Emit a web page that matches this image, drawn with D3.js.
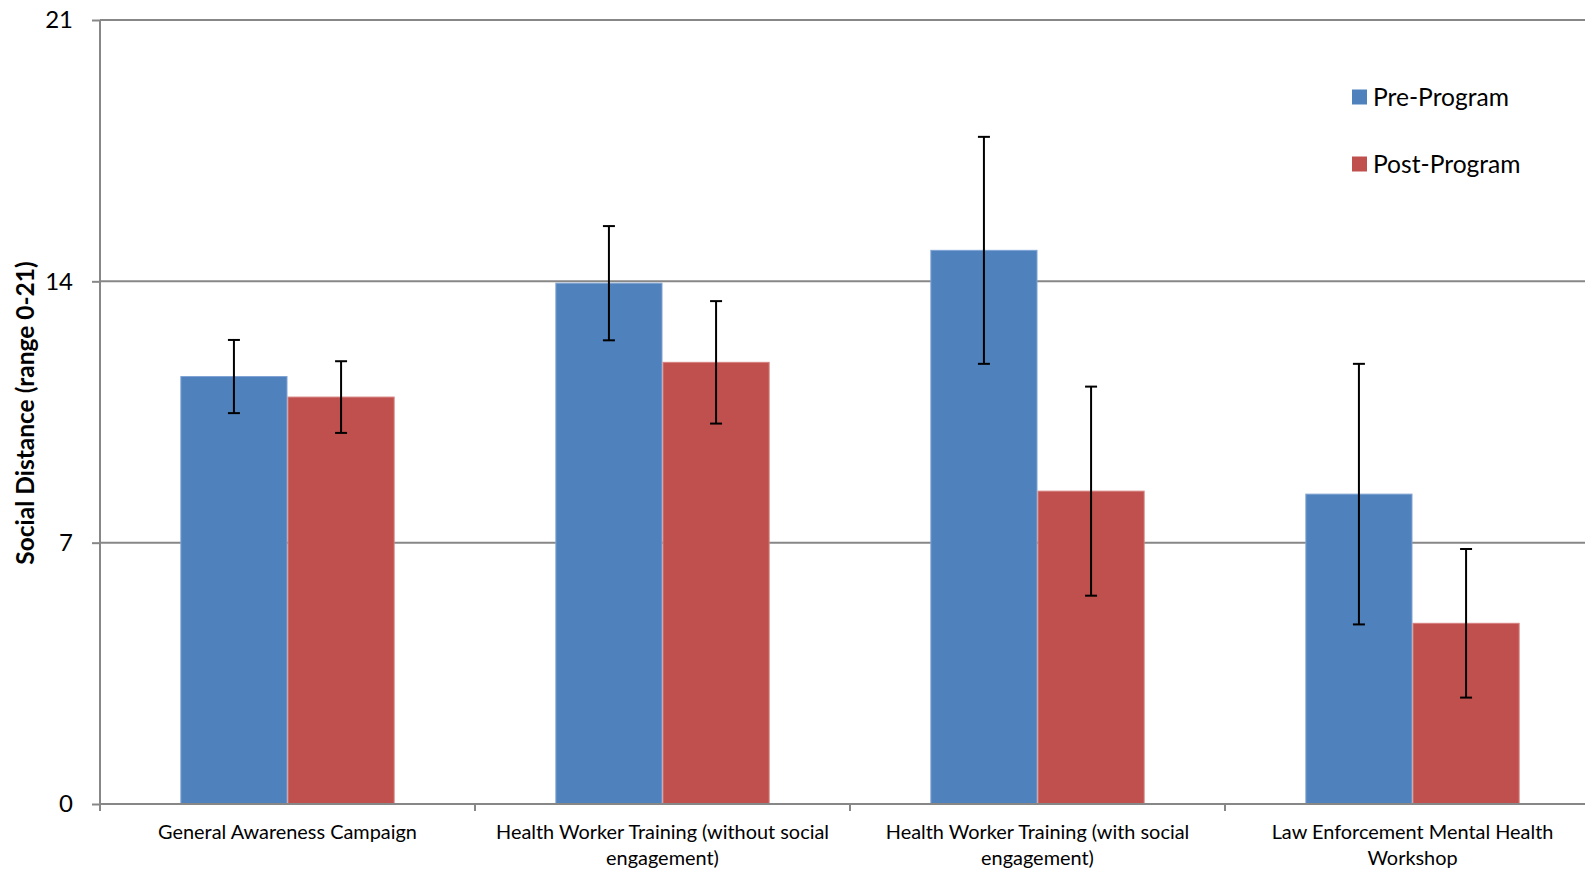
<!DOCTYPE html>
<html>
<head>
<meta charset="utf-8">
<script src="https://cdn.jsdelivr.net/npm/d3@7"></script>
<style>
  html, body { margin: 0; padding: 0; background: #ffffff; }
  svg { display: block; }
  text { font-family: Lato, "Open Sans", sans-serif; fill: #000; }
</style>
</head>
<body>
<svg id="chart" width="1585" height="870"></svg>
<script>
// ---- data ----
const categories = [
  "General Awareness Campaign",
  "Health Worker Training (without social\nengagement)",
  "Health Worker Training (with social\nengagement)",
  "Law Enforcement Mental Health\nWorkshop"
];
const seriesNames = ["Pre-Program", "Post-Program"];
const preValues  = [11.45, 13.95, 14.83, 8.30];
const postValues = [10.90, 11.83, 8.38, 4.84];
const preErrors  = [0.98, 1.53, 3.04, 3.49];
const postErrors = [0.96, 1.64, 2.80, 1.99];
const yTicks = [0, 7, 14, 21];
const colors = ["#4F81BD", "#C0504D"];
const strokeColors = ["#7FA3D2", "#D6817F"];

(function () {
// ---- layout ----
const svg = d3.select("#chart");
const pLeft = 100, pRight = 1600, pTop = 20, pBottom = 804;

const x0 = d3.scaleBand().domain(d3.range(categories.length)).range([pLeft, pRight]).paddingInner(0).paddingOuter(0);
const x1 = d3.scaleBand().domain(d3.range(seriesNames.length)).range([0, x0.bandwidth()]).paddingInner(0).paddingOuter(0.75);
const y = d3.scaleLinear().domain([0, 21]).range([pBottom, pTop]);

const gridColor = "#878787";

// gridlines
svg.append("g").selectAll("line").data(yTicks.filter(t => t !== 0)).join("line")
  .attr("x1", pLeft).attr("x2", pRight)
  .attr("y1", d => y(d)).attr("y2", d => y(d))
  .attr("stroke", gridColor).attr("stroke-width", 2);

// bars
const table = categories.map((c, i) => ({
  i,
  vals: [
    {s: 0, v: preValues[i], e: preErrors[i]},
    {s: 1, v: postValues[i], e: postErrors[i]}
  ]
}));

const groups = svg.append("g").selectAll("g").data(table).join("g")
  .attr("transform", d => `translate(${x0(d.i)},0)`);

groups.selectAll("rect").data(d => d.vals).join("rect")
  .attr("x", d => x1(d.s) + 0.5)
  .attr("width", x1.bandwidth() - 1)
  .attr("y", d => y(d.v))
  .attr("height", d => y(0) - y(d.v))
  .attr("fill", d => colors[d.s])
  .attr("stroke", d => strokeColors[d.s])
  .attr("stroke-width", 1);

// error bars
const capW = 12;
const eb = groups.selectAll("g.err").data(d => d.vals).join("g").attr("class", "err");
eb.append("line")
  .attr("x1", d => x1(d.s) + x1.bandwidth() / 2)
  .attr("x2", d => x1(d.s) + x1.bandwidth() / 2)
  .attr("y1", d => y(d.v + d.e)).attr("y2", d => y(d.v - d.e))
  .attr("stroke", "#000").attr("stroke-width", 2);
[1, -1].forEach(sign => {
  eb.append("line")
    .attr("x1", d => x1(d.s) + x1.bandwidth() / 2 - capW / 2)
    .attr("x2", d => x1(d.s) + x1.bandwidth() / 2 + capW / 2)
    .attr("y1", d => y(d.v + sign * d.e)).attr("y2", d => y(d.v + sign * d.e))
    .attr("stroke", "#000").attr("stroke-width", 2);
});

// y axis
const yAxis = svg.append("g").attr("transform", `translate(${pLeft},0)`)
  .call(d3.axisLeft(y).tickValues(yTicks).tickSize(8).tickPadding(19).tickFormat(d3.format("d")));
yAxis.select(".domain").attr("stroke", gridColor).attr("stroke-width", 2).attr("d", `M0,${pTop}V${pBottom}`);
yAxis.selectAll(".tick line").attr("stroke", gridColor).attr("stroke-width", 2);
yAxis.selectAll(".tick text").attr("font-size", 24).attr("font-family", "Lato, 'Open Sans', sans-serif").attr("fill", "#000");

// x axis
const xAxisG = svg.append("g");
xAxisG.append("line").attr("x1", pLeft).attr("x2", pRight).attr("y1", pBottom).attr("y2", pBottom)
  .attr("stroke", gridColor).attr("stroke-width", 2);
const boundaries = d3.range(categories.length + 1).map(i => i < categories.length ? x0(i) : x0(categories.length - 1) + x0.bandwidth());
xAxisG.selectAll("line.tk").data(boundaries).join("line").attr("class", "tk")
  .attr("x1", d => d).attr("x2", d => d).attr("y1", pBottom).attr("y2", pBottom + 7)
  .attr("stroke", gridColor).attr("stroke-width", 2);

const catLabels = xAxisG.selectAll("text.cat").data(categories).join("text").attr("class", "cat")
  .attr("text-anchor", "middle")
  .attr("font-size", 19.9)
  .attr("transform", (d, i) => `translate(${x0(i) + x0.bandwidth() / 2},839)`);
catLabels.each(function(d) {
  const lines = d.split("\n");
  d3.select(this).selectAll("tspan").data(lines).join("tspan")
    .attr("x", 0).attr("y", (l, k) => k * 25.5).text(l => l);
});

// y axis title
svg.append("text")
  .attr("transform", `translate(34,413) rotate(-90)`)
  .attr("text-anchor", "middle")
  .attr("font-size", 24.5)
  .attr("font-weight", "bold")
  .text("Social Distance (range 0-21)");

// legend
const legend = svg.append("g");
const legendY = [97, 164];
seriesNames.forEach((name, i) => {
  legend.append("rect").attr("x", 1352).attr("y", legendY[i] - 7.5).attr("width", 15).attr("height", 15)
    .attr("fill", colors[i]);
  legend.append("text").attr("x", 1373).attr("y", legendY[i] + 8.5).attr("font-size", 24.6).text(name);
});
})();
</script>
</body>
</html>
